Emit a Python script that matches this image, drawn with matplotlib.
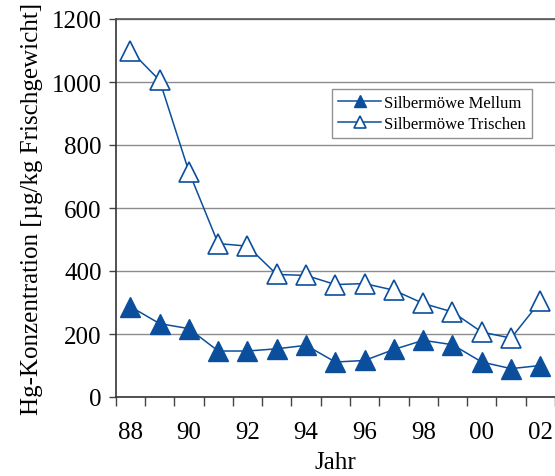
import matplotlib
matplotlib.use("Agg")
import matplotlib.pyplot as plt
import numpy as np

# Hg concentration in herring gull eggs, 1988-2002
years = ["88", "89", "90", "91", "92", "93", "94", "95", "96", "97", "98", "99", "00", "01", "02"]
mellum = [287, 233, 217, 146, 146, 153, 164, 111, 116, 151, 180, 166, 111, 90, 100]
trischen = [1100, 1005, 715, 487, 479, 389, 386, 357, 360, 339, 297, 270, 206, 187, 304]
y_ticks = [0, 200, 400, 600, 800, 1000, 1200]
x_labels_shown = ["88", "90", "92", "94", "96", "98", "00", "02"]

blue = "#0b4f9c"
plt.rcParams["font.family"] = ["Liberation Serif", "DejaVu Serif"]

fig = plt.figure(figsize=(5.55, 4.77), dpi=100)
ax = fig.add_axes([115.7 / 555, 1 - 398 / 477, 1 - 115.7 / 555, (398 - 20) / 477])

x = np.arange(len(years))
ax.plot(x, mellum, color=blue, lw=1.1, marker="^", ms=15, mfc=blue, mec=blue,
        mew=1.0, label="Silbermöwe Mellum", zorder=3)
ax.plot(x, trischen, color=blue, lw=1.1, marker="^", ms=15, mfc="white", mec=blue,
        mew=1.2, label="Silbermöwe Trischen", zorder=3)

ax.set_xlim(-0.5, 14.5)
ax.set_ylim(0, 1200)
ax.set_yticks(y_ticks)
ax.yaxis.grid(True, color="#8c8c8c", lw=1.0)
ax.set_axisbelow(True)

# labels on every other year, ticks on category boundaries
label_pos = [years.index(s) for s in x_labels_shown]
ax.set_xticks(label_pos)
ax.set_xticklabels(x_labels_shown)
ax.set_xticks(np.arange(-0.5, 14.6, 1.0), minor=True)
ax.tick_params(axis="x", which="major", length=0, pad=17, labelsize=18)
ax.tick_params(axis="x", which="minor", length=6.5, width=1.0, color="#444444", direction="out")
ax.tick_params(axis="y", length=5, width=1.0, color="#444444", pad=5, labelsize=18)

for side in ["left", "bottom"]:
    ax.spines[side].set_color("#333333")
    ax.spines[side].set_linewidth(1.2)
ax.spines["top"].set_color("#555555")
ax.spines["top"].set_linewidth(1.2)
ax.spines["right"].set_visible(False)

ax.set_xlabel("Jahr", fontsize=18, labelpad=6)
ax.set_ylabel("Hg-Konzentration [µg/kg Frischgewicht]", fontsize=18, labelpad=6)

leg = ax.legend(loc="upper left", bbox_to_anchor=(332 / 555, 1 - 90 / 477),
                bbox_transform=fig.transFigure, fontsize=12, frameon=True,
                fancybox=False, edgecolor="#777777", handlelength=2.6,
                markerscale=0.55, borderpad=0.35, labelspacing=0.3,
                handletextpad=0.2, borderaxespad=0)
leg.get_frame().set_linewidth(1.0)

fig.savefig("out.png", dpi=100)
